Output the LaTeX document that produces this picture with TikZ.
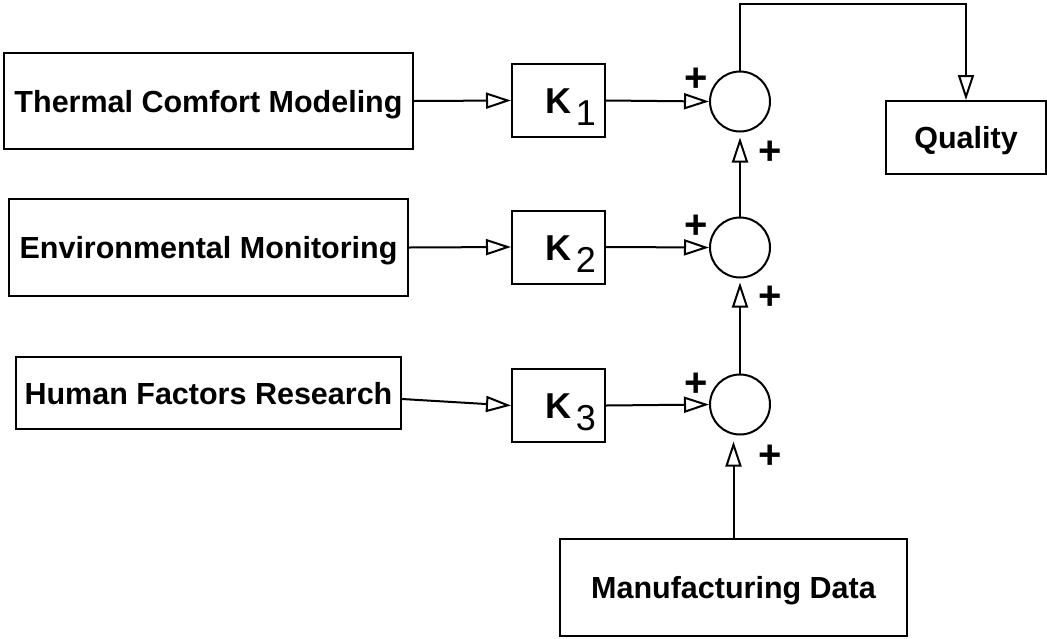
\documentclass[tikz,border=0pt]{standalone}
\usepackage{fontspec}
\setmainfont{Liberation Sans}
\usetikzlibrary{arrows.meta}
\begin{document}
\begin{tikzpicture}[x=1pt,y=-1pt,line width=2pt,
Box/.style={draw,rectangle,inner sep=0pt,text height=22pt,text depth=0pt,font=\fontsize{30.5}{30.5}\selectfont\bfseries},
Gain/.style={draw,rectangle,inner sep=0pt,minimum width=93pt,minimum height=73pt,text height=26pt,text depth=0pt,font=\fontsize{36}{36}\selectfont},
Sum/.style={draw,circle,inner sep=0pt,minimum size=60pt},
Sign/.style={inner sep=0pt,font=\fontsize{40}{40}\selectfont\bfseries},
Sig/.style={-{Triangle[open,length=25pt,width=16pt]}}]
\useasboundingbox (0,0) rectangle (1047,638);
\node[Box,minimum width=409pt,minimum height=96pt] (Thermal) at (208.5,101) {Thermal Comfort Modeling};
\node[Box,minimum width=399pt,minimum height=97pt] (Env) at (208.5,247.5) {Environmental Monitoring};
\node[Box,minimum width=385pt,minimum height=72pt] (Human) at (208.5,393) {Human Factors Research};
\node[Box,minimum width=160pt,minimum height=73pt] (Quality) at (966,137.5) {Quality};
\node[Box,minimum width=347pt,minimum height=97pt] (Data) at (733.5,587.5) {Manufacturing Data};
\node[Gain] (K1) at (558.5,100.5) {\hspace*{25pt}\textbf{K}\hspace{4pt}\raisebox{-12pt}{1}};
\node[Gain] (K2) at (558.5,247) {\hspace*{25pt}\textbf{K}\hspace{4pt}\raisebox{-12pt}{2}};
\node[Gain] (K3) at (558.5,405.5) {\hspace*{25pt}\textbf{K}\hspace{4pt}\raisebox{-12pt}{3}};
\node[Sum] (Sum1) at (740,101.5) {};
\node[Sum] (Sum2) at (740,247.5) {};
\node[Sum] (Sum3) at (740,404.5) {};
\node[Sign] (Plus1) at (696,80) {+};
\node[Sign] (Plus2) at (696,227) {+};
\node[Sign] (Plus3) at (696,385) {+};
\node[Sign] (Plus4) at (770,153) {+};
\node[Sign] (Plus5) at (770,298) {+};
\node[Sign] (Plus6) at (770,457) {+};
\coordinate (Top) at (0,3.5);
\draw[Sig] (Thermal.east) -- (K1.west);
\draw[Sig] (Env.east) -- (K2.west);
\draw[Sig] ([yshift=-6pt]Human.east) -- (K3.west);
\draw[Sig] (K1.east) -- (Sum1.west);
\draw[Sig] (K2.east) -- (Sum2.west);
\draw[Sig] (K3.east) -- (Sum3.west);
\draw[Sig,shorten >=5pt] (Sum2.north) -- (Sum1.south);
\draw[Sig,shorten >=4pt] (Sum3.north) -- (Sum2.south);
\draw[Sig,shorten >=6pt] (Data.north) -- (Data.north |- Sum3.south);
\draw[Sig] (Sum1.north) -- (Sum1.north |- Top) -| (Quality.north);
\end{tikzpicture}
\end{document}
